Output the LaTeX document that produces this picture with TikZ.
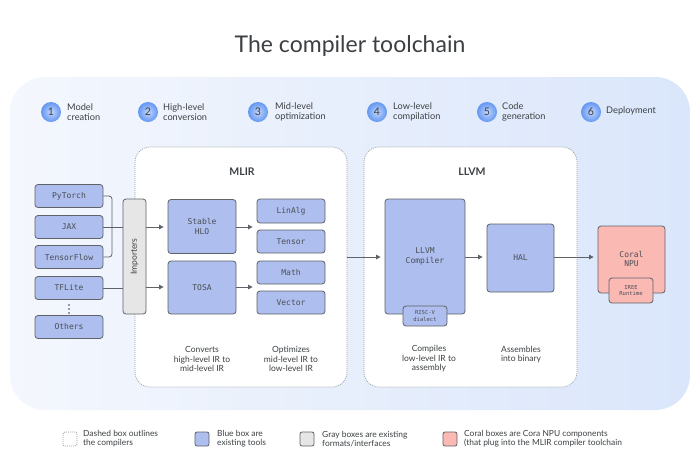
\documentclass[tikz,border=0pt]{standalone}
\usepackage{fontspec}
\setmainfont{Lato}
\newfontfamily\monof{DejaVu Sans Mono}
\usetikzlibrary{arrows.meta,calc}
\definecolor{bluefill}{HTML}{AEBEEE}
\definecolor{edgec}{HTML}{5F6368}
\definecolor{coralfill}{HTML}{FBB9B4}
\definecolor{grayfill}{HTML}{E6E6E6}
\definecolor{txt}{HTML}{3C4043}
\definecolor{monotxt}{HTML}{4A4E55}
\definecolor{bgl}{HTML}{F4F7FD}
\definecolor{bgr}{HTML}{DAE6FB}
\definecolor{dotc}{HTML}{9AA0A6}
\definecolor{stepin}{HTML}{C4D7FB}
\definecolor{stepout}{HTML}{6396F2}
\tikzset{
  box/.style={draw=edgec, fill=bluefill, rounded corners=3pt, line width=0.8pt,
    font=\monof\fontsize{8}{9.5}\selectfont, text=monotxt, align=center, inner sep=0pt},
  smallbox/.style={box, font=\monof\fontsize{5.5}{6.5}\selectfont},
  graybox/.style={box, fill=grayfill},
  coralbox/.style={box, fill=coralfill},
  compiler/.style={draw=dotc, fill=white, dash pattern=on 1pt off 1pt, line width=0.7pt, rounded corners=15pt},
  caption/.style={font=\fontsize{8.5}{9.5}\selectfont, text=txt, align=center},
  steplabel/.style={font=\fontsize{9.2}{10}\selectfont, text=txt, align=left, anchor=west, inner sep=0pt},
  stepnum/.style={circle, minimum size=20pt, inner sep=0pt, inner color=stepin, outer color=stepout,
    font=\fontsize{10.5}{10.5}\selectfont, text=txt},
  conn/.style={draw=edgec, line width=0.8pt},
  arr/.style={conn, -{Triangle[length=4.5pt,width=4.5pt]}, shorten >=4pt},
  legbox/.style={rounded corners=2pt, line width=0.8pt, minimum size=14pt, inner sep=0pt, draw=edgec},
  legtext/.style={font=\fontsize{8.4}{9.2}\selectfont, text=txt, align=left, anchor=west, inner sep=0pt},
  group/.style={font=\bfseries\fontsize{10.5}{10.5}\selectfont, text=txt}
}
\begin{document}
\begin{tikzpicture}[x=1pt,y=-1pt]
\useasboundingbox (0,0) rectangle (700,475);
\fill[white] (0,0) rectangle (700,475);
\node[font=\fontsize{23}{23}\selectfont, text=txt] (title) at (350,46) {The compiler toolchain};
\shade[left color=bgl, right color=bgr, rounded corners=35pt] (10,77) rectangle (690,410);

% steps
\node[stepnum] (s1) at (51,112) {1};
\node[steplabel] (l1) at (67,112) {Model\\creation};
\node[stepnum] (s2) at (148,112) {2};
\node[steplabel] (l2) at (163,112) {High-level\\conversion};
\node[stepnum] (s3) at (258,112) {3};
\node[steplabel] (l3) at (275,112) {Mid-level\\optimization};
\node[stepnum] (s4) at (377,112) {4};
\node[steplabel] (l4) at (393,112) {Low-level\\compilation};
\node[stepnum] (s5) at (487,112) {5};
\node[steplabel] (l5) at (502,112) {Code\\generation};
\node[stepnum] (s6) at (591,112) {6};
\node[steplabel] (l6) at (606,111) {Deployment};

% compiler boxes
\draw[compiler] (135,147) rectangle (347,387);
\coordinate (mlirE) at (347,257);
\node[group] (mlir) at (242,172) {MLIR};
\draw[compiler] (364,147) rectangle (577,387);
\node[group] (llvm) at (472,172) {LLVM};

% sources
\node[box, minimum width=68pt, minimum height=23pt] (pytorch) at (69,196) {PyTorch};
\node[box, minimum width=68pt, minimum height=23pt] (jax) at (69,227) {JAX};
\node[box, minimum width=68pt, minimum height=23pt] (tf) at (69,257) {TensorFlow};
\node[box, minimum width=68pt, minimum height=23pt] (tflite) at (69,288) {TFLite};
\foreach \yy in {305,309,313} \fill[txt] (69,\yy) circle (0.9);
\node[box, minimum width=68pt, minimum height=23pt] (others) at (69,327) {Others};

\node[graybox, minimum width=23pt, minimum height=115pt] (imp) at (134.5,256.5) {};
\node[rotate=90, font=\fontsize{8.5}{9}\selectfont, text=txt] (implabel) at (imp.center) {Importers};

\node[box, minimum width=68pt, minimum height=54pt] (shlo) at (202,226.5) {Stable\\HLO};
\node[box, minimum width=68pt, minimum height=53pt] (tosa) at (202,287.5) {TOSA};

\node[box, minimum width=68pt, minimum height=24pt] (linalg) at (291,211) {LinAlg};
\node[box, minimum width=68pt, minimum height=23pt] (tensor) at (291,241.5) {Tensor};
\node[box, minimum width=68pt, minimum height=23pt] (math) at (291,272.5) {Math};
\node[box, minimum width=68pt, minimum height=23pt] (vector) at (291,302.5) {Vector};

\node[caption] (c1) at (202,359) {Converts\\high-level IR to\\mid-level IR};
\node[caption] (c2) at (291,359) {Optimizes\\mid-level IR to\\low-level IR};

\node[box, minimum width=80pt, minimum height=115pt] (llvmc) at (425,256.5) {LLVM\\Compiler};
\node[smallbox, minimum width=44pt, minimum height=20pt] (riscv) at (425,316) {RISC-V\\dialect};
\node[box, minimum width=67pt, minimum height=68pt] (hal) at (520.5,258) {HAL};
\node[caption] (c3) at (429,359) {Compiles\\low-level IR to\\assembly};
\node[caption] (c4) at (521,354.5) {Assembles\\into binary};

\node[coralbox, minimum width=67pt, minimum height=67pt, text depth=0pt] (coral) at (631.5,259.5) {\raisebox{6pt}{\begin{tabular}{@{}c@{}}Coral\\NPU\end{tabular}}};
\node[smallbox, fill=coralfill, minimum width=44pt, minimum height=25pt] (iree) at (631,290.5) {IREE\\Runtime};

% connectors
\draw[conn, rounded corners=3pt] (pytorch.east) -- (112,196) -- (112,257) -- (tf.east);
\draw[conn] (jax.east) -- (imp.west |- jax.east);
\draw[conn] (tflite.east) -- (imp.west |- tflite.east);
\draw[arr] (imp.east |- 0,227) -- (shlo.west |- 0,227);
\draw[arr] (imp.east |- 0,287) -- (tosa.west |- 0,287);
\draw[arr] (shlo.east |- 0,227) -- (linalg.west |- 0,227);
\draw[arr] (tosa.east |- 0,287) -- (math.west |- 0,287);
\draw[arr] (mlirE) -- (llvmc.west |- mlirE);
\draw[arr] (llvmc.east |- 0,257) -- (hal.west |- 0,257);
\draw[arr] (hal.east |- 0,257) -- (coral.west |- 0,257);

% legend
\node[legbox, dash pattern=on 1pt off 1pt, draw=dotc, fill=white] (lg1) at (70,439) {};
\node[legtext] (lt1) at (83,439) {Dashed box outlines\\the compilers};
\node[legbox, fill=bluefill] (lg2) at (202,439) {};
\node[legtext] (lt2) at (217,439) {Blue box are\\existing tools};
\node[legbox, fill=grayfill] (lg3) at (307,439) {};
\node[legtext] (lt3) at (322,439) {Gray boxes are existing\\formats/interfaces};
\node[legbox, fill=coralfill] (lg4) at (450,439) {};
\node[legtext] (lt4) at (464,439) {Coral boxes are Cora NPU components\\(that plug into the MLIR compiler toolchain};
\end{tikzpicture}
\end{document}
